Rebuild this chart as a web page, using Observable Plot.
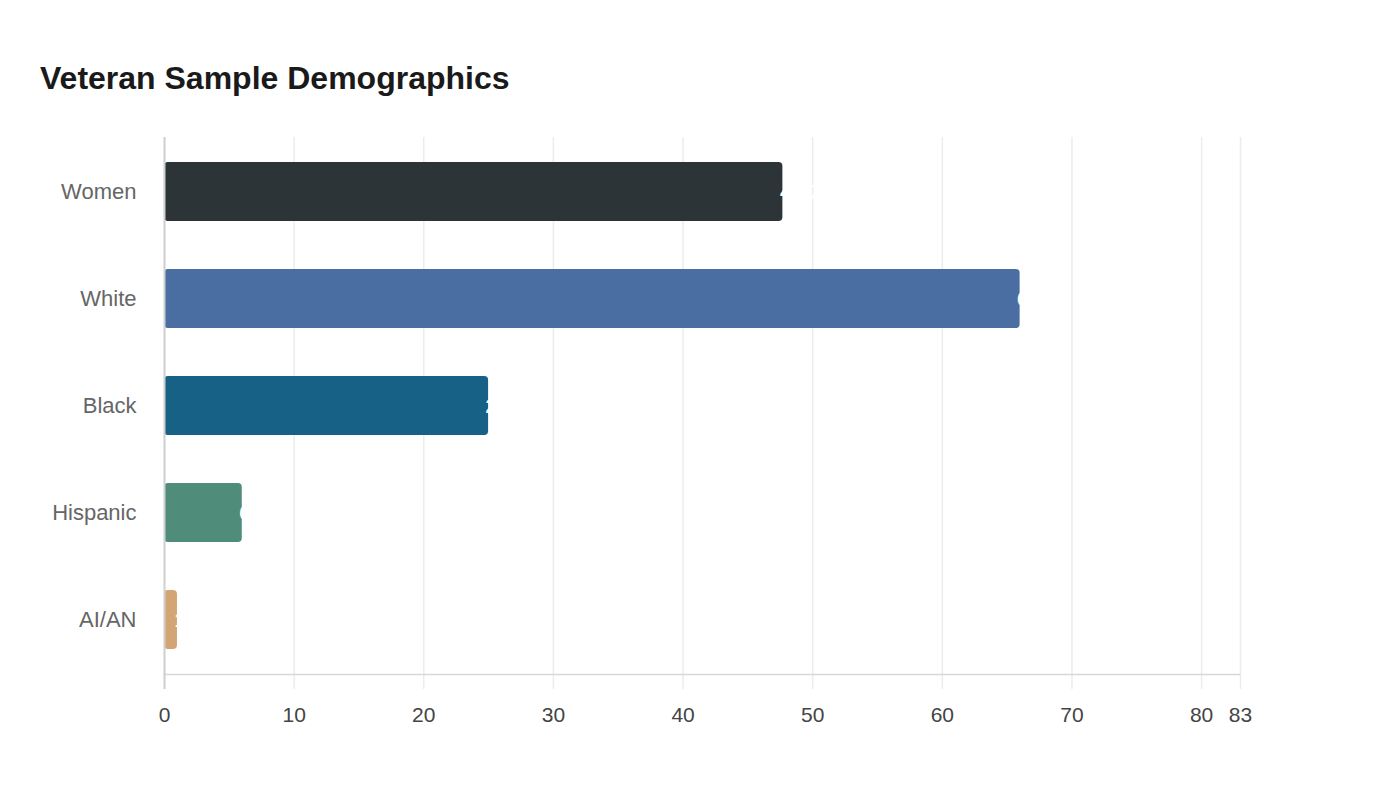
<!DOCTYPE html>
<html>
<head>
<meta charset="utf-8">
<script src="https://cdn.jsdelivr.net/npm/d3@7"></script>
<script src="https://cdn.jsdelivr.net/npm/@observablehq/plot@0.6"></script>
<style>
  html, body { margin: 0; padding: 0; background: #fff; }
  #wrap { position: relative; width: 1400px; height: 800px; font-family: "Liberation Sans", Arial, sans-serif; }
  #title { position: absolute; left: 40px; top: 62px; font-size: 32px; line-height: 32px; font-weight: bold; color: #1a1a1a; white-space: nowrap; }
  #chart { position: absolute; left: 0; top: 0; }
</style>
</head>
<body>
<div id="wrap">
  <div id="chart"></div>
  <div id="title">Veteran Sample Demographics</div>
</div>
<script>
const categories = ["Women", "White", "Black", "Hispanic", "AI/AN"];
const values = [47.7, 66, 25, 6, 1];
const valueLabels = ["47.7", "66", "25", "6", "1"];
const colors = ["#2c3437", "#4a6ea2", "#176086", "#4f8c7a", "#d4a574"];
const xTicks = [0, 10, 20, 30, 40, 50, 60, 70, 80, 83];

const data = categories.map((c, i) => ({category: c, value: values[i], label: valueLabels[i]}));

const chart = Plot.plot({
  width: 1400,
  height: 800,
  marginLeft: 164,
  marginRight: 160,
  marginTop: 137,
  marginBottom: 126,
  style: {fontFamily: "'Liberation Sans', Arial, sans-serif", background: "#fff"},
  x: {domain: [0, 83]},
  y: {domain: categories, paddingInner: 0.45, paddingOuter: 0.225},
  color: {domain: categories, range: colors},
  marks: [
    Plot.gridX(xTicks, {stroke: "#ececec", strokeOpacity: 1, strokeWidth: 1.5}),
    Plot.axisX(xTicks, {tickSize: 15, tickPadding: 18, stroke: "#ececec", strokeWidth: 1.5, fill: "#444", fontSize: 21, label: null, tickFormat: d => String(d)}),
    Plot.frame({anchor: "bottom", stroke: "#d8d8d8", strokeDasharray: "1,1", strokeWidth: 1.5}),
    Plot.axisY({tickSize: 0, tickPadding: 28, fill: "#666", fontSize: 22, label: null}),
    Plot.barX(data, {x: "value", y: "category", fill: "category", rx: 4}),
    Plot.ruleX([0], {stroke: "#d0d0d0", strokeWidth: 2, insetBottom: -15}),
    Plot.text(data, {x: "value", y: "category", text: "label", textAnchor: "start", dx: -3, fill: "white", fontWeight: "bold", fontSize: 21})
  ]
});
document.getElementById("chart").appendChild(chart);
</script>
</body>
</html>
